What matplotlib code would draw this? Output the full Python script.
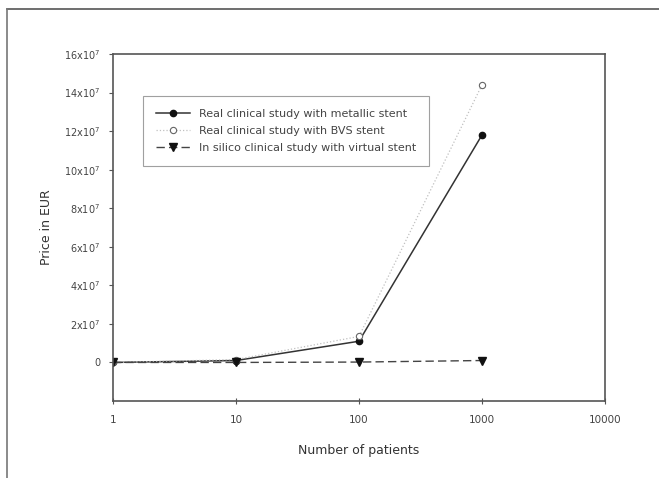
#!/usr/bin/env python

import numpy as np
import matplotlib.pyplot as plt
from matplotlib.lines import Line2D

patients = [1, 10, 100, 1000]
metallic = [0, 0.1e7, 1.1e7, 11.8e7]
bvs      = [0, 0.15e7, 1.35e7, 14.4e7]
insilico = [0, 0.0e7, 0.02e7, 0.1e7]

labels = ['Real clinical study with metallic stent',
          'Real clinical study with BVS stent',
          'In silico clinical study with virtual stent']
xticks = [1, 10, 100, 1000, 10000]
yticks = np.arange(0, 17e7, 2e7)

plt.rcParams['font.family'] = 'DejaVu Sans'
fig = plt.figure(figsize = (6.59, 4.78), dpi = 100)
ax = fig.add_axes([113/659, 1 - 401/478, (605 - 113)/659, (401 - 54)/478])

ax.plot(patients, metallic, color = '#333333', lw = 1.1, marker = 'o', ms = 4.5,
        mfc = '#111111', mec = '#111111', label = labels[0])
ax.plot(patients, bvs, color = '#c0c0c0', lw = 0.9, ls = ':', marker = 'o', ms = 4.5,
        mfc = 'white', mec = '#666666', mew = 0.8, label = labels[1])
ax.plot(patients, insilico, color = '#444444', lw = 1.0, ls = (0, (6, 3)),
        marker = 'v', ms = 5.5, mfc = '#111111', mec = '#111111', label = labels[2])

ax.set_xscale('log')
ax.set_xlim(1, 10000)
ax.set_ylim(-2e7, 16e7)
ax.set_xticks(xticks)
ax.set_xticklabels([str(x) for x in xticks])
ax.minorticks_off()
ax.set_yticks(yticks)
ax.set_yticklabels(['0'] + ['%dx10$^7$' % (v / 1e7) for v in yticks[1:]])

for s in ax.spines.values():
    s.set_color('#555555')
    s.set_linewidth(1.2)
ax.tick_params(axis = 'y', direction = 'out', length = 3, labelsize = 7,
               colors = '#555555', labelcolor = '#444444', pad = 6)
ax.tick_params(axis = 'x', direction = 'inout', length = 4, labelsize = 7.5,
               colors = '#555555', labelcolor = '#444444', pad = 8)

ax.set_xlabel('Number of patients', fontsize = 9, color = '#333333', labelpad = 14)
ax.set_ylabel('Price in EUR', fontsize = 9, color = '#333333', labelpad = 8)

leg = ax.legend(loc = 'upper left', bbox_to_anchor = (0.061, 0.879), fontsize = 8,
                frameon = True, fancybox = False, handlelength = 3.0,
                borderpad = 1.2, labelspacing = 0.6, labelcolor = '#444444',
                borderaxespad = 0)
leg.get_frame().set_edgecolor('#888888')
leg.get_frame().set_linewidth(0.8)

# outer frame of the original figure
fig.add_artist(Line2D([7/659, 1], [1 - 9/478, 1 - 9/478], color = '#555555', lw = 1.2))
fig.add_artist(Line2D([7/659, 7/659], [0, 1 - 9/478], color = '#777777', lw = 1.2))

plt.savefig('out.png')
